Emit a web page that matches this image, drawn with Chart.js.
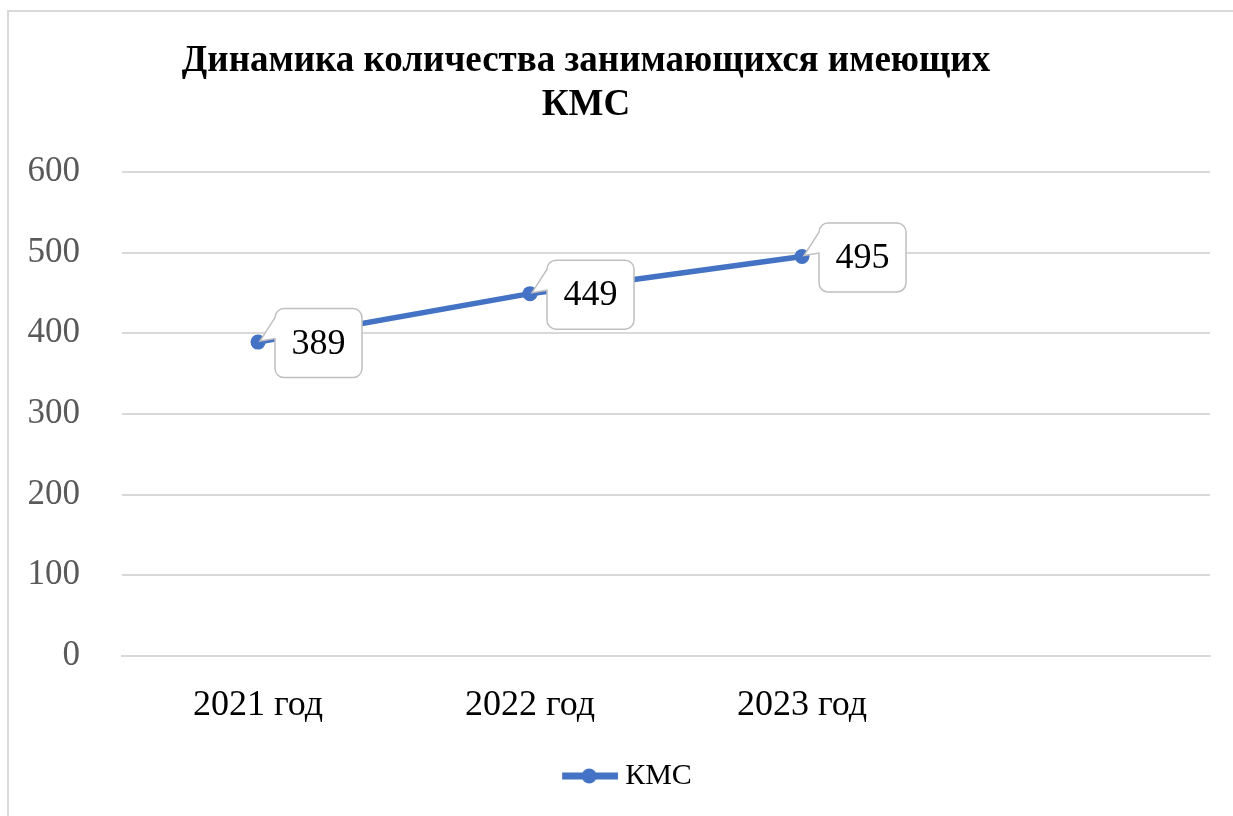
<!DOCTYPE html>
<html>
<head>
<meta charset="utf-8">
<script src="https://cdn.jsdelivr.net/npm/chart.js@4.4.1/dist/chart.umd.min.js"></script>
<style>
  html, body { margin: 0; padding: 0; background: #fff; overflow: hidden; }
  #wrap { position: relative; width: 1233px; height: 816px; overflow: hidden; }
  #frame { position: absolute; left: 7px; top: 10px; width: 1300px; height: 900px; border: 2px solid #d9d9d9; box-sizing: border-box; }
  #box { position: absolute; left: 0; top: 0; width: 1233px; height: 816px; }
</style>
</head>
<body>
<div id="wrap">
  <div id="frame"></div>
  <div id="box"><canvas id="c"></canvas></div>
</div>
<script>
const titleLines = ['Динамика количества занимающихся имеющих', 'КМС'];
const categories = ['2021 год', '2022 год', '2023 год', ''];
const seriesName = 'КМС';
const seriesValues = [389, 449, 495, null];
const yTicks = [0, 100, 200, 300, 400, 500, 600];

const SERIF = '"Liberation Serif", "Times New Roman", serif';
const BLUE = '#4472C4';

// legend symbol: line with a circle marker (transparent padding on the left)
const legendImg = document.createElement('canvas');
legendImg.width = 146; legendImg.height = 18;
(function () {
  const g = legendImg.getContext('2d');
  g.strokeStyle = BLUE; g.lineWidth = 7;
  g.beginPath(); g.moveTo(90, 9); g.lineTo(146, 9); g.stroke();
  g.fillStyle = BLUE;
  g.beginPath(); g.arc(117, 9, 7.5, 0, Math.PI * 2); g.fill();
})();

const calloutLabels = {
  id: 'calloutLabels',
  afterDatasetsDraw(chart) {
    const ctx = chart.ctx;
    chart.data.datasets.forEach((ds, di) => {
      const meta = chart.getDatasetMeta(di);
      meta.data.forEach((pt, i) => {
        const v = ds.data[i];
        if (v === null || v === undefined) return;
        const text = String(v);
        ctx.save();
        ctx.font = '36px ' + SERIF;
        const tw = ctx.measureText(text).width;
        const w = tw + 33, h = 69, r = 9;
        const left = pt.x + 17, top = pt.y + 1 - h / 2;
        const right = left + w, bottom = top + h;
        const tipX = pt.x + 2, tipY = pt.y - 1;
        ctx.beginPath();
        ctx.moveTo(left + r, top);
        ctx.lineTo(right - r, top);
        ctx.arcTo(right, top, right, top + r, r);
        ctx.lineTo(right, bottom - r);
        ctx.arcTo(right, bottom, right - r, bottom, r);
        ctx.lineTo(left + r, bottom);
        ctx.arcTo(left, bottom, left, bottom - r, r);
        ctx.lineTo(left, top + 30);
        ctx.lineTo(tipX, tipY);
        ctx.lineTo(left, top + 9);
        ctx.arcTo(left, top, left + r, top, r);
        ctx.closePath();
        ctx.fillStyle = '#ffffff';
        ctx.fill();
        ctx.strokeStyle = '#bfbfbf';
        ctx.lineWidth = 1.5;
        ctx.stroke();
        ctx.fillStyle = '#000000';
        ctx.textAlign = 'center';
        ctx.textBaseline = 'middle';
        ctx.fillText(text, left + w / 2, pt.y + 2);
        ctx.restore();
      });
    });
  }
};

new Chart(document.getElementById('c'), {
  type: 'line',
  data: {
    labels: categories,
    datasets: [{
      label: seriesName,
      data: seriesValues,
      borderColor: BLUE,
      backgroundColor: BLUE,
      borderWidth: 5.5,
      pointRadius: 7.5,
      pointHoverRadius: 7.5,
      pointBackgroundColor: BLUE,
      pointBorderColor: BLUE,
      pointBorderWidth: 0,
      tension: 0,
      spanGaps: false
    }]
  },
  options: {
    responsive: true,
    maintainAspectRatio: false,
    animation: false,
    events: [],
    layout: { padding: { left: -38, right: 23, top: 0, bottom: 15 } },
    plugins: {
      tooltip: { enabled: false },
      title: {
        display: true,
        text: titleLines,
        color: '#000000',
        font: { family: SERIF, size: 37, weight: 'bold', lineHeight: 1.2 },
        padding: { top: 39, bottom: 44 }
      },
      legend: {
        display: true,
        position: 'bottom',
        labels: {
          color: '#000000',
          font: { family: SERIF, size: 30 },
          usePointStyle: true,
          pointStyleWidth: 130,
          padding: 10,
          generateLabels(chart) {
            const items = Chart.defaults.plugins.legend.labels.generateLabels(chart);
            items.forEach(it => { it.pointStyle = legendImg; });
            return items;
          }
        }
      }
    },
    scales: {
      x: {
        offset: true,
        grid: { display: false, drawTicks: false },
        border: { display: true, color: '#d9d9d9', width: 2 },
        ticks: { color: '#000000', font: { family: SERIF, size: 36 }, padding: 28, maxRotation: 0, autoSkip: false },
        afterFit(scale) { scale.height = 95; }
      },
      y: {
        min: yTicks[0],
        max: yTicks[yTicks.length - 1],
        afterBuildTicks(scale) { scale.ticks = yTicks.map(v => ({ value: v })); },
        grid: { color: '#d9d9d9', lineWidth: 2, drawTicks: false },
        border: { display: false },
        ticks: { color: '#595959', font: { family: SERIF, size: 35 }, padding: 42 },
        afterFit(scale) { scale.width = 160; }
      }
    }
  },
  plugins: [calloutLabels]
});
</script>
</body>
</html>
